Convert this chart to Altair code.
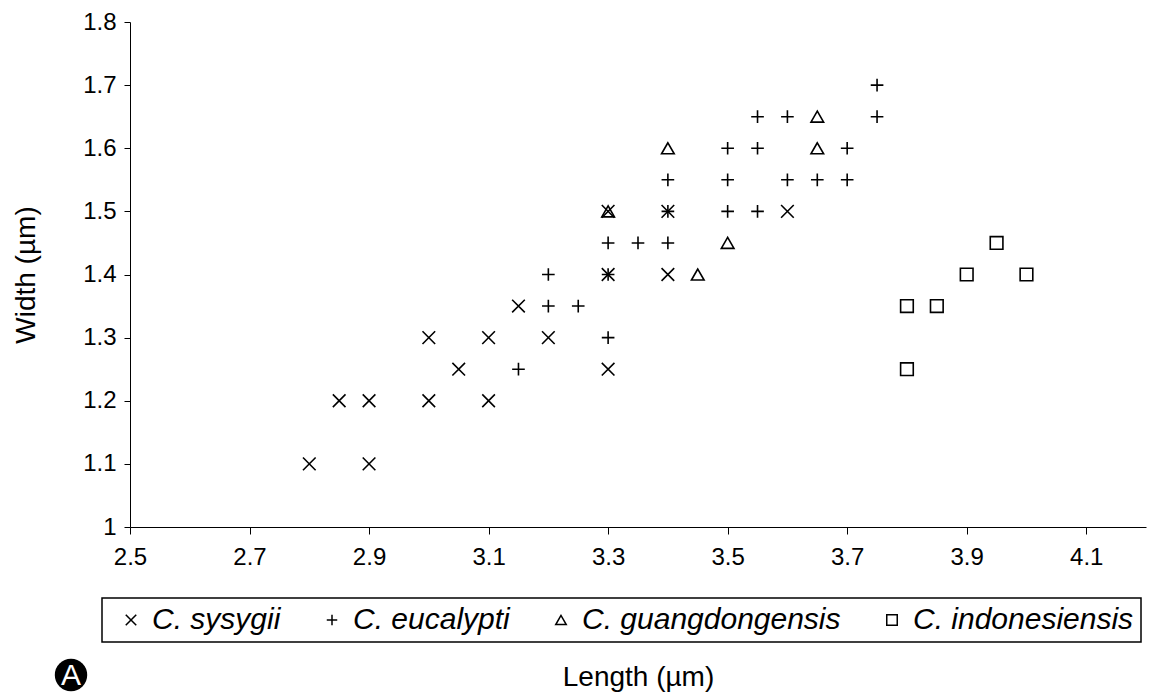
import altair as alt
import pandas as pd

species = ["C. sysygii", "C. eucalypti", "C. guangdongensis", "C. indonesiensis"]

sysygii_len = [2.8, 2.85, 2.9, 2.9, 3.0, 3.0, 3.05, 3.1, 3.1, 3.15, 3.2, 3.3, 3.3, 3.3, 3.4, 3.4, 3.6]
sysygii_wid = [1.1, 1.2, 1.2, 1.1, 1.3, 1.2, 1.25, 1.3, 1.2, 1.35, 1.3, 1.25, 1.4, 1.5, 1.5, 1.4, 1.5]

eucalypti_len = [3.15, 3.2, 3.2, 3.25, 3.3, 3.3, 3.3, 3.35, 3.4, 3.4, 3.4, 3.5, 3.5, 3.5,
                 3.55, 3.55, 3.55, 3.6, 3.6, 3.65, 3.7, 3.7, 3.75, 3.75]
eucalypti_wid = [1.25, 1.35, 1.4, 1.35, 1.3, 1.4, 1.45, 1.45, 1.45, 1.5, 1.55, 1.5, 1.55, 1.6,
                 1.5, 1.6, 1.65, 1.55, 1.65, 1.55, 1.55, 1.6, 1.65, 1.7]

guang_len = [3.3, 3.4, 3.45, 3.5, 3.65, 3.65]
guang_wid = [1.5, 1.6, 1.4, 1.45, 1.65, 1.6]

indo_len = [3.8, 3.8, 3.85, 3.9, 3.95, 4.0]
indo_wid = [1.35, 1.25, 1.35, 1.4, 1.45, 1.4]

x_ticks = [2.5, 2.7, 2.9, 3.1, 3.3, 3.5, 3.7, 3.9, 4.1]
y_ticks = [1.0, 1.1, 1.2, 1.3, 1.4, 1.5, 1.6, 1.7, 1.8]

series = [
    (species[0], sysygii_len, sysygii_wid),
    (species[1], eucalypti_len, eucalypti_wid),
    (species[2], guang_len, guang_wid),
    (species[3], indo_len, indo_wid),
]
rows = []
for name, xs, ys in series:
    for x, y in zip(xs, ys):
        rows.append({"species": name, "length": x, "width": y})
df = pd.DataFrame(rows)

shapes = ["M-1,-1L1,1M-1,1L1,-1", "M-1,0L1,0M0,-1L0,1", "triangle-up", "square"]

points = alt.Chart(df).mark_point(
    filled=False, color="black", strokeWidth=1.6, size=160, opacity=1
).encode(
    x=alt.X("length:Q",
            scale=alt.Scale(domain=[2.5, 4.2], nice=False, zero=False),
            axis=alt.Axis(values=x_ticks, format="~g", title="Length (µm)",
                          titlePadding=94, labelPadding=11, tickSize=7,
                          labelFlush=False, labelOverlap=False)),
    y=alt.Y("width:Q",
            scale=alt.Scale(domain=[1.0, 1.8], nice=False, zero=False),
            axis=alt.Axis(values=y_ticks, format="~g", title="Width (µm)",
                          titlePadding=42, labelPadding=8, tickSize=6,
                          labelFlush=False, labelOverlap=False)),
    shape=alt.Shape("species:N",
                    scale=alt.Scale(domain=species, range=shapes),
                    legend=alt.Legend(title=None, orient="none", legendX=-28, legendY=576,
                                      direction="horizontal", columns=4,
                                      strokeColor="black", padding=7,
                                      symbolOffset=7, symbolSize=110,
                                      symbolStrokeColor="black", symbolStrokeWidth=1.5,
                                      labelFont="Liberation Sans", labelFontStyle="italic",
                                      labelFontSize=30, labelColor="black", labelLimit=0,
                                      labelOffset=6, columnPadding=29)),
)

badge_df = pd.DataFrame({"label": ["A"]})
badge = alt.Chart(badge_df).mark_circle(color="black", opacity=1, size=1050).encode(
    x=alt.value(-59), y=alt.value(653)
)
badge_text = alt.Chart(badge_df).mark_text(
    color="white", font="Liberation Sans", fontSize=30, align="center", baseline="middle", dy=1
).encode(x=alt.value(-59), y=alt.value(653), text="label:N")

chart = alt.layer(points, badge, badge_text).properties(
    width=1016, height=505,
    autosize=alt.AutoSizeParams(type="none"),
    padding={"left": 122, "top": 14, "right": 1, "bottom": 165},
).configure_view(strokeWidth=0).configure_axis(
    grid=False, domainColor="black", domainWidth=1, tickColor="black", tickWidth=1,
    labelFont="Liberation Sans", labelFontSize=24, labelColor="black",
    titleFont="Liberation Sans", titleFontSize=28, titleFontWeight="normal", titleColor="black",
).configure_legend(strokeWidth=1.5)

chart.save("out.html", embed_options={"renderer": "svg", "actions": False})
